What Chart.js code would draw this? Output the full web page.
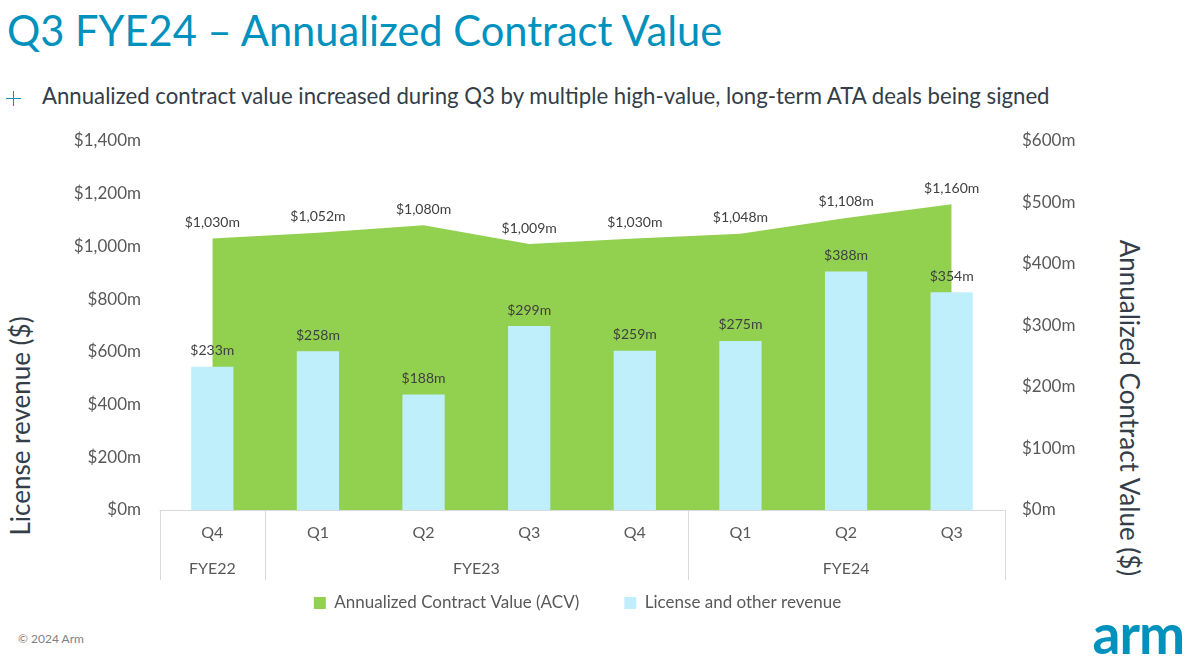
<!DOCTYPE html>
<html>
<head>
<meta charset="utf-8">
<title>Q3 FYE24 – Annualized Contract Value</title>
<script src="https://cdn.jsdelivr.net/npm/chart.js@4.4.1/dist/chart.umd.min.js"></script>
<style>
  html, body { margin: 0; padding: 0; background: #fff; }
  body { width: 1189px; height: 669px; position: relative; overflow: hidden; font-family: Lato, "Open Sans", sans-serif; }
  .title { position: absolute; left: 7px; top: 6px; font-size: 41.6px; line-height: 1.2; color: #0091BD; white-space: nowrap; }
  .subtitle { position: absolute; left: 42px; top: 83px; font-size: 22.2px; line-height: 1.2; color: #333E48; white-space: nowrap; }
  .bullet { position: absolute; left: 6px; top: 91px; width: 15px; height: 15px; }
  .bullet::before, .bullet::after { content: ""; position: absolute; background: #0091BD; }
  .bullet::before { left: 7px; top: 0; width: 1px; height: 15px; }
  .bullet::after { left: 0; top: 7px; width: 15px; height: 1px; }
  .axis-title { position: absolute; font-size: 26px; line-height: 1; color: #333E48; white-space: nowrap; transform-origin: center center; }
  #leftTitle { left: 20px; top: 426px; transform: translate(-50%, -50%) rotate(-90deg); }
  #rightTitle { left: 1130px; top: 408px; transform: translate(-50%, -50%) rotate(90deg); }
  .copy { position: absolute; left: 18px; top: 631px; font-size: 12px; color: #7F7F7F; }
  .logo { position: absolute; right: 5px; top: 600px; font-size: 55px; font-weight: 700; line-height: 1.2; color: #0091BD; letter-spacing: -1px; }
  #wrap { position: absolute; left: 0; top: 120px; width: 1155px; height: 510px; }
</style>
</head>
<body>
<div class="title">Q3 FYE24 – Annualized Contract Value</div>
<div class="bullet"></div>
<div class="subtitle">Annualized contract value increased during Q3 by multiple high-value, long-term ATA deals being signed</div>
<div class="axis-title" id="leftTitle">License revenue ($)</div>
<div class="axis-title" id="rightTitle">Annualized Contract Value ($)</div>
<div class="copy">© 2024 Arm</div>
<div class="logo">arm</div>
<div id="wrap"><canvas id="acvChart"></canvas></div>
<script>
const quarters = ["Q4", "Q1", "Q2", "Q3", "Q4", "Q1", "Q2", "Q3"];
const fiscalYears = ["FYE22", "FYE23", "FYE23", "FYE23", "FYE23", "FYE24", "FYE24", "FYE24"];
const acvValues = [1030, 1052, 1080, 1009, 1030, 1048, 1108, 1160];
const licenseValues = [233, 258, 188, 299, 259, 275, 388, 354];
const leftTicks = [0, 200, 400, 600, 800, 1000, 1200, 1400];
const rightTicks = [0, 100, 200, 300, 400, 500, 600];

const tickColor = "#595959";

function money(v) {
    return "$" + String(v).replace(/\B(?=(\d{3})+(?!\d))/g, ",") + "m";
}

// Value labels above each point / bar
const valueLabels = {
    id: "valueLabels",
    afterDatasetsDraw(chart) {
        const ctx = chart.ctx;
        ctx.save();
        ctx.font = "14px Lato";
        ctx.fillStyle = "#404040";
        ctx.textAlign = "center";
        ctx.textBaseline = "middle";
        chart.data.datasets.forEach((ds, i) => {
            chart.getDatasetMeta(i).data.forEach((el, j) => {
                ctx.fillText(money(ds.data[j]), el.x, el.y - 16);
            });
        });
        ctx.restore();
    }
};

// Two-level category axis: quarter row + fiscal year row with separators
const groupedAxis = {
    id: "groupedAxis",
    afterDraw(chart) {
        const xs = chart.scales.x;
        const ctx = chart.ctx;
        const top = xs.top;
        const half = (xs.getPixelForValue(1) - xs.getPixelForValue(0)) / 2;

        ctx.save();
        ctx.strokeStyle = "#D9D9D9";
        ctx.lineWidth = 1;
        ctx.beginPath();
        ctx.moveTo(xs.left, top + 0.5);
        ctx.lineTo(xs.right, top + 0.5);

        // find runs of the same fiscal year
        const groups = [];
        fiscalYears.forEach((fy, i) => {
            const last = groups[groups.length - 1];
            if (last && last.name === fy) last.end = i;
            else groups.push({ name: fy, start: i, end: i });
        });
        groups.forEach(g => {
            const x0 = Math.round(xs.getPixelForValue(g.start) - half) + 0.5;
            ctx.moveTo(x0, top);
            ctx.lineTo(x0, top + 70);
        });
        const xr = Math.round(xs.right) + 0.5;
        ctx.moveTo(xr, top);
        ctx.lineTo(xr, top + 70);
        ctx.stroke();

        ctx.font = "16px Lato";
        ctx.fillStyle = tickColor;
        ctx.textAlign = "center";
        ctx.textBaseline = "middle";
        quarters.forEach((q, i) => {
            ctx.fillText(q, xs.getPixelForValue(i), top + 23);
        });
        groups.forEach(g => {
            const a = xs.getPixelForValue(g.start) - half;
            const b = xs.getPixelForValue(g.end) + half;
            ctx.fillText(g.name, (a + b) / 2, top + 59);
        });
        ctx.restore();
    }
};

Chart.defaults.font.family = "Lato";

// fixed axis width; keep tick padding from pushing the plot down
function fixWidth(w) {
    return s => {
        s.width = w;
        s.paddingTop = 10;
        s.paddingBottom = 10;
    };
}

function drawChart() {
    const ctx = document.getElementById("acvChart").getContext("2d");
    new Chart(ctx, {
        type: "bar",
        data: {
            labels: quarters,
            datasets: [{
                type: "line",
                label: "Annualized Contract Value (ACV)",
                data: acvValues,
                yAxisID: "y",
                fill: "origin",
                backgroundColor: "#92D050",
                borderColor: "#92D050",
                borderWidth: 0,
                pointRadius: 0,
                tension: 0,
                order: 2
            }, {
                type: "bar",
                label: "License and other revenue",
                data: licenseValues,
                yAxisID: "y1",
                backgroundColor: "#C0EFFC",
                barPercentage: 0.4,
                categoryPercentage: 1,
                order: 1
            }]
        },
        options: {
            responsive: true,
            maintainAspectRatio: false,
            animation: false,
            layout: { padding: { top: 21, bottom: 8.5, left: 0, right: 0 } },
            plugins: {
                tooltip: { enabled: false },
                legend: {
                    position: "bottom",
                    labels: {
                        boxWidth: 12,
                        boxHeight: 12,
                        padding: 45,
                        color: tickColor,
                        font: { size: 17 },
                        sort: (a, b) => a.datasetIndex - b.datasetIndex
                    }
                }
            },
            scales: {
                x: {
                    offset: true,
                    grid: { display: false },
                    border: { display: false },
                    ticks: { display: false },
                    afterFit: s => { s.height = 39.5; }
                },
                y: {
                    position: "left",
                    min: 0,
                    max: 1400,
                    afterBuildTicks: s => { s.ticks = leftTicks.map(v => ({ value: v })); },
                    ticks: { callback: v => money(v), padding: 18.5, color: tickColor, font: { size: 17 } },
                    grid: { display: false, drawTicks: false },
                    border: { display: false },
                    afterFit: fixWidth(159.5)
                },
                y1: {
                    position: "right",
                    min: 0,
                    max: 600,
                    afterBuildTicks: s => { s.ticks = rightTicks.map(v => ({ value: v })); },
                    ticks: { callback: v => money(v), padding: 17.5, color: tickColor, font: { size: 17 } },
                    grid: { display: false, drawTicks: false },
                    border: { display: false },
                    afterFit: fixWidth(150.5)
                }
            }
        },
        plugins: [valueLabels, groupedAxis]
    });
}

if (document.fonts && document.fonts.load) {
    Promise.all([document.fonts.load("16px Lato"), document.fonts.load("bold 52px Lato")]).then(drawChart, drawChart);
} else {
    drawChart();
}
</script>
</body>
</html>
